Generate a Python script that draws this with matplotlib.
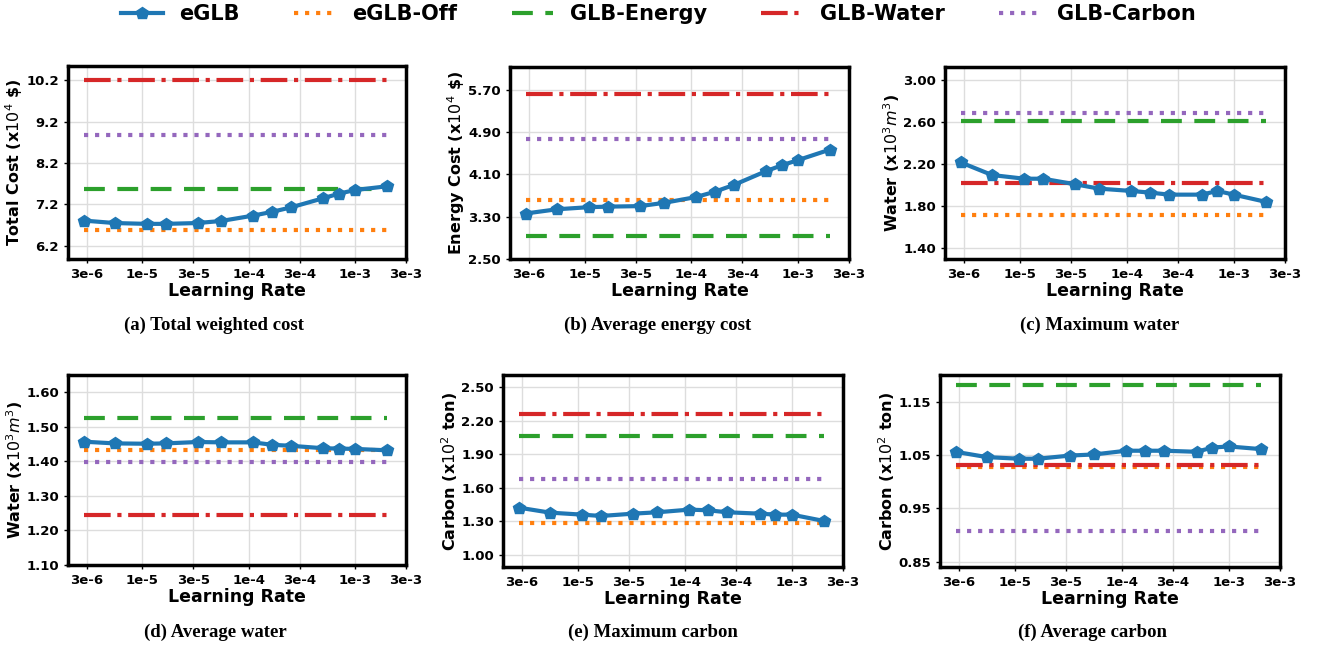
import numpy as np
import matplotlib.pyplot as plt
from matplotlib.ticker import FixedLocator, FixedFormatter, NullLocator

# learning rates used in the sweep
lr = [2.8e-6, 5.5e-6, 1.1e-5, 1.65e-5, 3.3e-5, 5.5e-5, 1.1e-4, 1.65e-4,
      2.5e-4, 5e-4, 7e-4, 1e-3, 2e-3]

# eGLB curves per metric
total_cost = [6.81, 6.75, 6.73, 6.73, 6.75, 6.80, 6.93, 7.02, 7.13, 7.35, 7.46, 7.55, 7.64]
energy_cost = [3.36, 3.44, 3.48, 3.49, 3.50, 3.56, 3.67, 3.77, 3.90, 4.16, 4.27, 4.37, 4.57]
max_water = [2.216, 2.096, 2.061, 2.061, 2.008, 1.967, 1.945, 1.929, 1.910, 1.910, 1.945, 1.910, 1.841]
avg_water = [1.457, 1.452, 1.451, 1.452, 1.456, 1.455, 1.455, 1.448, 1.445, 1.438, 1.437, 1.436, 1.432]
max_carbon = [1.422, 1.377, 1.359, 1.347, 1.368, 1.380, 1.404, 1.398, 1.380, 1.368, 1.359, 1.359, 1.302]
avg_carbon = [1.056, 1.046, 1.043, 1.043, 1.049, 1.051, 1.058, 1.058, 1.058, 1.056, 1.064, 1.066, 1.061]

# baselines: eGLB-Off, GLB-Energy, GLB-Water, GLB-Carbon
base_total = [6.57, 7.57, 10.2, 8.88]
base_energy = [3.62, 2.94, 5.62, 4.77]
base_maxw = [1.715, 2.61, 2.017, 2.68]
base_avgw = [1.432, 1.525, 1.245, 1.397]
base_maxc = [1.287, 2.063, 2.257, 1.674]
base_avgc = [1.027, 1.182, 1.032, 0.907]

xticks = [3e-6, 1e-5, 3e-5, 1e-4, 3e-4, 1e-3, 3e-3]
xticklabels = ['3e-6', '1e-5', '3e-5', '1e-4', '3e-4', '1e-3', '3e-3']

names = ['eGLB', 'eGLB-Off', 'GLB-Energy', 'GLB-Water', 'GLB-Carbon']
colors = ['#1f77b4', '#ff7f0e', '#2ca02c', '#d62728', '#9467bd']
styles = [':', (0, (5, 3)), '-.', ':']

panels = [
    (total_cost, base_total, 'Total Cost (x$10^4$ \\$)', [6.2, 7.2, 8.2, 9.2, 10.2], (5.88, 10.55), '%.1f', '(a) Total weighted cost'),
    (energy_cost, base_energy, 'Energy Cost (x$10^4$ \\$)', [2.5, 3.3, 4.1, 4.9, 5.7], (2.5, 6.13), '%.2f', '(b) Average energy cost'),
    (max_water, base_maxw, 'Water (x$10^3m^3$)', [1.4, 1.8, 2.2, 2.6, 3.0], (1.30, 3.12), '%.2f', '(c) Maximum water'),
    (avg_water, base_avgw, 'Water (x$10^3m^3$)', [1.1, 1.2, 1.3, 1.4, 1.5, 1.6], (1.10, 1.65), '%.2f', '(d) Average water'),
    (max_carbon, base_maxc, 'Carbon (x$10^2$ ton)', [1.0, 1.3, 1.6, 1.9, 2.2, 2.5], (0.89, 2.61), '%.2f', '(e) Maximum carbon'),
    (avg_carbon, base_avgc, 'Carbon (x$10^2$ ton)', [0.85, 0.95, 1.05, 1.15], (0.84, 1.20), '%.2f', '(f) Average carbon'),
]

W, H = 1317, 650
# axes boxes in pixels: left, right, top, bottom
boxes = [(68, 406, 66, 259), (510, 849, 67, 259), (945, 1285, 67, 259),
         (68, 406, 375, 565), (503, 843, 375, 567), (940, 1280, 375, 567)]
cap_x = [214, 658, 1100, 215, 653, 1093]
cap_y = [325, 325, 325, 632, 632, 632]

fig = plt.figure(figsize=(W / 100, H / 100), dpi=100)
handles = None
for i, (ys, base, ylab, yt, ylim, fmt, cap) in enumerate(panels):
    l, r, t, b = boxes[i]
    ax = fig.add_axes([l / W, 1 - b / H, (r - l) / W, (b - t) / H])
    h0, = ax.plot(lr, ys, color=colors[0], lw=3, marker='p', ms=9, zorder=5)
    hs = [h0]
    for j, v in enumerate(base):
        h, = ax.plot([lr[0], lr[-1]], [v, v], color=colors[j + 1], lw=3, ls=styles[j])
        hs.append(h)
    handles = hs
    ax.set_xscale('log')
    ax.set_xlim(2e-6, 3e-3)
    ax.xaxis.set_major_locator(FixedLocator(xticks))
    ax.xaxis.set_major_formatter(FixedFormatter(xticklabels))
    ax.xaxis.set_minor_locator(NullLocator())
    ax.set_yticks(yt)
    ax.set_yticklabels([fmt % v for v in yt])
    ax.set_ylim(*ylim)
    ax.grid(True, color='#dddddd', lw=1)
    ax.set_axisbelow(True)
    for s in ax.spines.values():
        s.set_linewidth(2.5)
    ax.tick_params(labelsize=9.5, width=1, length=3)
    for lbl in ax.get_xticklabels() + ax.get_yticklabels():
        lbl.set_fontweight('bold')
    ax.set_xlabel('Learning Rate', fontsize=12.5, fontweight='bold', labelpad=1)
    ax.set_ylabel(ylab, fontsize=11.5, fontweight='bold', labelpad=1)
    fig.text(cap_x[i] / W, 1 - cap_y[i] / H, cap, ha='center', va='center',
             fontsize=13.5, fontweight='bold', family='Liberation Serif')

fig.legend(handles, names, loc='center', bbox_to_anchor=(0.5, 1 - 14 / H), ncol=5,
           frameon=False, prop={'weight': 'bold', 'size': 15}, handlelength=2.0,
           columnspacing=2.6)

fig.savefig('out.png', dpi=100)
